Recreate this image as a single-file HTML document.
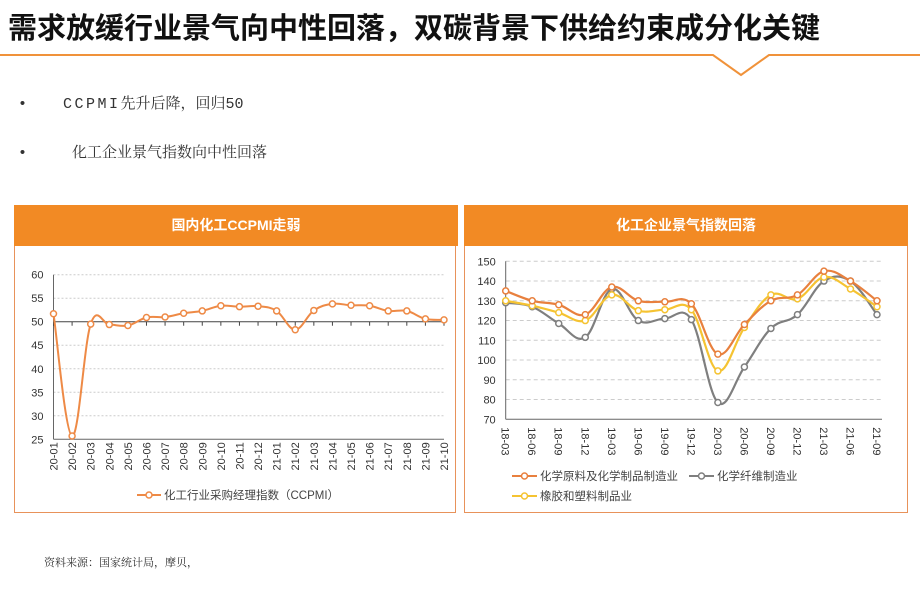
<!DOCTYPE html>
<html><head><meta charset="utf-8">
<style>
body{margin:0;width:920px;height:614px;background:#fff;overflow:hidden;font-family:"Liberation Sans","Noto Sans CJK SC",sans-serif;position:relative}
.abs{position:absolute}
</style></head><body>
<div class="abs" style="left:8px;top:5px;font-size:29px;font-weight:bold;color:#111;letter-spacing:0px;white-space:nowrap">需求放缓行业景气向中性回落，双碳背景下供给约束成分化关键</div>
<svg class="abs" style="left:0;top:0" width="920" height="90">
<polyline points="0,55 713,55 741,75 769,55 920,55" fill="none" stroke="#f0923a" stroke-width="2"/>
</svg>
<div class="abs" style="left:18px;top:92px;font-size:15px;color:#333;font-family:'Liberation Mono','Noto Serif CJK SC',serif;white-space:nowrap">•&nbsp;&nbsp;&nbsp;&nbsp;<span style="letter-spacing:2.5px">CCPMI</span>先升后降，回归50</div>
<div class="abs" style="left:18px;top:141px;font-size:15px;color:#333;font-family:'Liberation Mono','Noto Serif CJK SC',serif;white-space:nowrap">•&nbsp;&nbsp;&nbsp;&nbsp;&nbsp;化工企业景气指数向中性回落</div>

<div class="abs" style="left:14px;top:205px;width:442px;height:308px;border:1.5px solid #e8925a;box-sizing:border-box"></div>
<div class="abs" style="left:14px;top:205px;width:444px;height:41px;background:#f28a24;color:#fff;font-size:14px;font-weight:bold;text-align:center;line-height:41px">国内化工CCPMI走弱</div>
<div class="abs" style="left:464px;top:205px;width:444px;height:308px;border:1.5px solid #e8925a;box-sizing:border-box"></div>
<div class="abs" style="left:464px;top:205px;width:444px;height:41px;background:#f28a24;color:#fff;font-size:14px;font-weight:bold;text-align:center;line-height:41px">化工企业景气指数回落</div>

<svg id="c" class="abs" style="left:0;top:0" width="920" height="614"></svg>

<div class="abs" style="left:44px;top:554px;font-size:11px;color:#333;font-family:'Liberation Serif','Noto Serif CJK SC',serif">资料来源：国家统计局，摩贝，</div>

<script>
const lCats=["20-01","20-02","20-03","20-04","20-05","20-06","20-07","20-08","20-09","20-10","20-11","20-12","21-01","21-02","21-03","21-04","21-05","21-06","21-07","21-08","21-09","21-10"];
const lVals=[51.7,25.7,49.5,49.4,49.2,50.9,51.0,51.8,52.3,53.4,53.2,53.3,52.3,48.3,52.4,53.8,53.5,53.4,52.3,52.3,50.6,50.4];
const lTicks=[25,30,35,40,45,50,55,60];
const rCats=["18-03","18-06","18-09","18-12","19-03","19-06","19-09","19-12","20-03","20-06","20-09","20-12","21-03","21-06","21-09"];
const rRaw=[135,130,128,123,137,130,129.5,128.5,103,118,130,133,145,140,130];
const rFiber=[129,127,118.5,111.5,136,120,121,120.5,78.5,96.5,116,123,140,140,123];
const rRubber=[130,127.5,124,120,133,125,125.5,125.5,94.5,116.5,133,131,142,136,127];
const rTicks=[70,80,90,100,110,120,130,140,150];

const svg=document.getElementById('c');
const NS='http://www.w3.org/2000/svg';
function mk(tag,attrs,parent){const e=document.createElementNS(NS,tag);for(const k in attrs)e.setAttribute(k,attrs[k]);(parent||svg).appendChild(e);return e;}
function smooth(pts){let d='M'+pts[0][0]+','+pts[0][1];for(let i=0;i<pts.length-1;i++){const p0=pts[i-1]||pts[i],p1=pts[i],p2=pts[i+1],p3=pts[i+2]||p2;const t=0.18;d+=' C'+(p1[0]+(p2[0]-p0[0])*t)+','+(p1[1]+(p2[1]-p0[1])*t)+' '+(p2[0]-(p3[0]-p1[0])*t)+','+(p2[1]-(p3[1]-p1[1])*t)+' '+p2[0]+','+p2[1];}return d;}

// left chart
const L={x0:53.5,x1:444,yTop:274.7,yBot:439.3,min:25,max:60};
const lx=i=>L.x0+i*(L.x1-L.x0)/(lCats.length-1);
const ly=v=>L.yBot-(v-L.min)/(L.max-L.min)*(L.yBot-L.yTop);
lTicks.forEach(t=>{
 if(t!==25&&t!==50){const g=mk('line',{x1:L.x0,x2:L.x1,y1:ly(t),y2:ly(t),stroke:'#ccc','stroke-dasharray':'2,2'});}
 const tx=mk('text',{x:L.x0-10,y:ly(t)+4,'text-anchor':'end','font-size':11,fill:'#333'});tx.textContent=t;
 
});
mk('line',{x1:L.x0,x2:L.x0,y1:L.yTop,y2:L.yBot,stroke:'#666'});
mk('line',{x1:L.x0,x2:L.x1,y1:L.yBot,y2:L.yBot,stroke:'#666'});
mk('line',{x1:L.x0,x2:L.x1,y1:ly(50),y2:ly(50),stroke:'#444'});
lCats.forEach((c,i)=>{
 mk('line',{x1:lx(i),x2:lx(i),y1:ly(50),y2:ly(50)+4,stroke:'#444'});
 const tx=mk('text',{transform:`translate(${lx(i)+4},${L.yBot+3}) rotate(-90)`,'text-anchor':'end','font-size':11,fill:'#333'});tx.textContent=c;
 
});
const lp=lVals.map((v,i)=>[lx(i),ly(v)]);
const lline=mk('path',{d:smooth(lp),fill:'none',stroke:'#ee8a46','stroke-width':2});

lp.forEach(p=>{const c=mk('circle',{cx:p[0],cy:p[1],r:3,fill:'#fff',stroke:'#ee8a46','stroke-width':1.5});});
mk('line',{x1:137,x2:161,y1:495,y2:495,stroke:'#ee8a46','stroke-width':2});
mk('circle',{cx:149,cy:495,r:3,fill:'#fff',stroke:'#ee8a46','stroke-width':1.5});
const lg=mk('text',{x:164,y:499,'font-size':11.5,fill:'#444'});lg.textContent='化工行业采购经理指数（CCPMI）';


// right chart
const R={x0:505.7,x1:877,yTop:261.3,yBot:419.3,min:70,max:150,axisR:882};
const rx=i=>R.x0+i*(R.x1-R.x0)/(rCats.length-1);
const ry=v=>R.yBot-(v-R.min)/(R.max-R.min)*(R.yBot-R.yTop);
rTicks.forEach(t=>{
 if(t!==70){const g=mk('line',{x1:R.x0,x2:R.axisR,y1:ry(t),y2:ry(t),stroke:'#ccc','stroke-dasharray':'4,3'});}
 const tx=mk('text',{x:R.x0-10,y:ry(t)+4,'text-anchor':'end','font-size':11,fill:'#333'});tx.textContent=t;
 
});
mk('line',{x1:R.x0,x2:R.x0,y1:R.yTop,y2:R.yBot,stroke:'#666'});
mk('line',{x1:R.x0,x2:R.axisR,y1:R.yBot,y2:R.yBot,stroke:'#666'});
rCats.forEach((c,i)=>{
 const tx=mk('text',{transform:`translate(${rx(i)-4},${R.yBot+8}) rotate(90)`,'text-anchor':'start','font-size':11,fill:'#333'});tx.textContent=c;
 
});
const series=[[rFiber,'#7f7f7f','fiber'],[rRubber,'#f5c332','rubber'],[rRaw,'#e8803e','raw-material']];
series.forEach(([vals,col,name])=>{
 const pts=vals.map((v,i)=>[rx(i),ry(v)]);
 const p=mk('path',{d:smooth(pts),fill:'none',stroke:col,'stroke-width':2.2});
 
 pts.forEach(q=>{const c=mk('circle',{cx:q[0],cy:q[1],r:3,fill:'#fff',stroke:col,'stroke-width':1.5});});
});
[[512,476,'#e8803e','化学原料及化学制品制造业'],[689,476,'#7f7f7f','化学纤维制造业'],[512,496,'#f5c332','橡胶和塑料制品业']].forEach(([x,y,col,t])=>{
 mk('line',{x1:x,x2:x+25,y1:y,y2:y,stroke:col,'stroke-width':2});
 mk('circle',{cx:x+12.5,cy:y,r:3,fill:'#fff',stroke:col,'stroke-width':1.5});
 const tx=mk('text',{x:x+28,y:y+4,'font-size':11.5,fill:'#444'});tx.textContent=t;
 
});
</script>
</body></html>
